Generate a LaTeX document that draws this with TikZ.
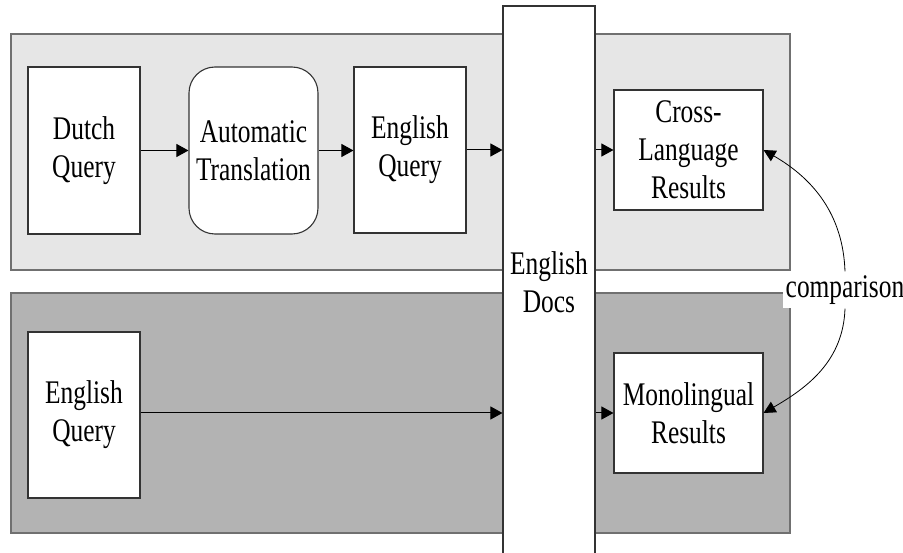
\documentclass[tikz,border=0pt]{standalone}
\usepackage{fontspec}
\setmainfont{Liberation Serif}[FakeStretch=0.77]
\usetikzlibrary{arrows.meta}
\definecolor{toppanel}{HTML}{E6E6E6}
\definecolor{botpanel}{HTML}{B3B3B3}
\definecolor{panelline}{HTML}{707070}
\definecolor{boxline}{HTML}{333333}
\begin{document}
\begin{tikzpicture}[x=1pt,y=-1pt,
  panel/.style={draw=panelline,line width=1.4pt},
  box/.style={draw=boxline,fill=white,line width=1.1pt,align=center,inner sep=0pt,
    font=\fontsize{33}{38}\selectfont},
  arr/.style={-{Triangle[length=12pt,width=13pt]},line width=1pt,black},
  curv/.style={-{Triangle[length=12pt,width=12pt]},line width=0.8pt,black}]
\useasboundingbox (0,0) rectangle (903,553);
\clip (0,0) rectangle (903,553);
\fill[white] (0,0) rectangle (903,553);
% panels
\draw[panel,fill=toppanel] (11,34) rectangle (790,270);
\draw[panel,fill=botpanel] (11,293) rectangle (790,533);
% nodes
\node[box,minimum width=112pt,minimum height=167pt] (dq) at (84,150.5) {Dutch\\Query};
\node[box,minimum width=129pt,minimum height=167pt,rounded corners=26pt] (at) at (253.5,150.5) {Automatic\\Translation};
\node[box,minimum width=112pt,minimum height=166pt] (eq1) at (410,150) {English\\Query};
\node[box,minimum width=92pt,minimum height=552pt] (docs) at (549,282) {English\\Docs};
\node[box,minimum width=149pt,minimum height=120pt] (cross) at (688.5,150) {Cross-\\Language\\Results};
\node[box,minimum width=112pt,minimum height=166pt] (eq2) at (84,415) {English\\Query};
\node[box,minimum width=149pt,minimum height=120pt] (mono) at (688.5,413) {Monolingual\\Results};
\node[fill=white,inner xsep=3pt,inner ysep=4pt,font=\fontsize{33}{38}\selectfont] (comp) at (845,290) {comparison};
% connectors
\draw[arr] (dq.east) -- (at.west);
\draw[arr] (at.east) -- (at.east -| eq1.west);
\draw[arr] (eq1.east) -- (eq1.east -| docs.west);
\draw[arr] (docs.east |- cross.west) -- (cross.west);
\draw[arr] (eq2.east |- mono.west) -- (mono.west -| docs.west);
\draw[arr] (docs.east |- mono.west) -- (mono.west);
\coordinate (ct) at (comp.north);
\coordinate (cb) at (comp.south);
\draw[curv] (ct) to[out=92,in=-30] (cross.east);
\draw[curv] (cb) to[out=-92,in=30] (mono.east);
\end{tikzpicture}
\end{document}
